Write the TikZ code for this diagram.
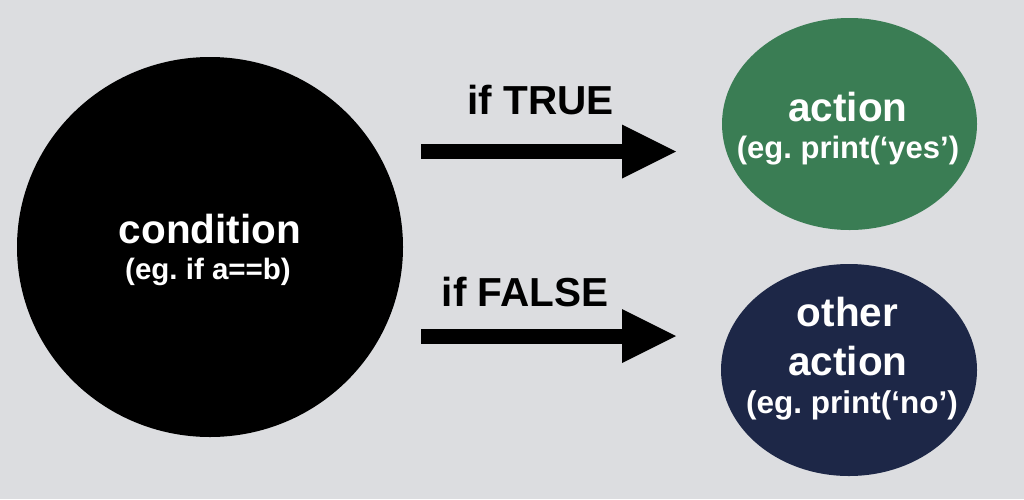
\documentclass[tikz,border=0pt]{standalone}
\usepackage{fontspec}
\setmainfont{Liberation Sans}
\usetikzlibrary{shapes.geometric,arrows.meta}
\definecolor{bg}{RGB}{220,221,224}
\definecolor{grn}{RGB}{58,125,84}
\definecolor{navy}{RGB}{29,39,71}
\begin{document}
\frenchspacing
\begin{tikzpicture}[x=1pt,y=-1pt,
  blob/.style={ellipse, inner sep=0pt, draw=none},
  maintext/.style={font=\fontsize{40.5}{48}\selectfont\bfseries, text=white, anchor=base, inner sep=0pt},
  subtext/.style={font=\fontsize{31}{36}\selectfont\bfseries, text=white, anchor=base, inner sep=0pt},
  lbl/.style={font=\fontsize{40.5}{48}\selectfont\bfseries, text=black, anchor=base, inner sep=0pt},
  bigarrow/.style={line width=15pt, -{Triangle[length=54pt,width=54pt,line width=0pt]}}]
\fill[bg] (0,0) rectangle (1024,499);
\useasboundingbox (0,0) rectangle (1024,499);

\node[blob, fill=black, minimum width=386pt, minimum height=380pt] (cond) at (210,247) {};
\node[blob, fill=grn, minimum width=255pt, minimum height=212pt] (act) at (849.5,124) {};
\node[blob, fill=navy, minimum width=256pt, minimum height=212pt] (oth) at (849,370) {};

\node[maintext] (condt) at (210,243) {condition};
\node[subtext, font=\fontsize{29.5}{34}\selectfont\bfseries] (conds) at (208,279) {(eg.\ if a==b)};

\node[maintext] (actt) at (848,121) {action};
\node[subtext] (acts) at (848,158) {(eg.\ print(‘yes’)};

\node[maintext] (otht1) at (847.5,326) {other};
\node[maintext] (otht2) at (848,375) {action};
\node[subtext, font=\fontsize{31.5}{36}\selectfont\bfseries] (oths) at (852,413) {(eg.\ print(‘no’)};

\node[lbl] (ltrue) at (540.5,114) {if TRUE};
\node[lbl] (lfalse) at (525,306) {if FALSE};

\coordinate (a1s) at (421,151.5);
\coordinate (a1e) at (676,151.5);
\coordinate (a2s) at (421,336);
\coordinate (a2e) at (676,336);
\draw[bigarrow] (a1s) -- (a1e);
\draw[bigarrow] (a2s) -- (a2e);
\end{tikzpicture}
\end{document}
